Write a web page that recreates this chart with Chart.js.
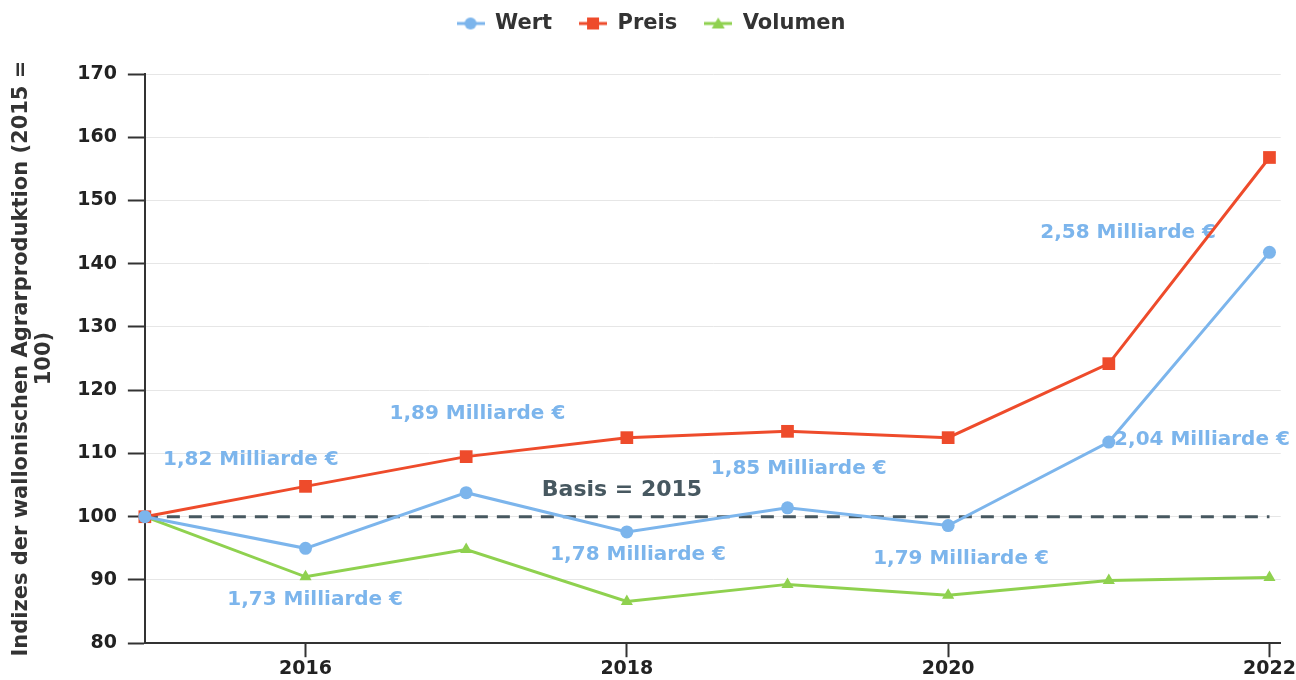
<!DOCTYPE html>
<html>
<head>
<meta charset="utf-8">
<script src="https://cdn.jsdelivr.net/npm/chart.js@4.4.0/dist/chart.umd.min.js"></script>
<style>
  html, body { margin: 0; padding: 0; background: #fff; }
  #wrap { width: 1296px; height: 680px; }
</style>
</head>
<body>
<div id="wrap"><canvas id="agrarChart" width="1296" height="680"></canvas></div>
<script>
const years = [2015, 2016, 2017, 2018, 2019, 2020, 2021, 2022];
const wert = [100, 95.0, 103.8, 97.6, 101.4, 98.6, 111.8, 141.8];
const preis = [100, 104.8, 109.5, 112.5, 113.5, 112.5, 124.2, 156.8];
const volumen = [100, 90.5, 94.8, 86.6, 89.3, 87.6, 89.9, 90.4];
const xTicks = [2016, 2018, 2020, 2022];
const basisValue = 100;

// Wert-Beschriftungen (Position in Datenkoordinaten: Jahr, Index)
const wertLabels = [
    { text: '1,82 Milliarde €', x: 2015.66, y: 109.0 },
    { text: '1,73 Milliarde €', x: 2016.06, y: 86.8 },
    { text: '1,89 Milliarde €', x: 2017.07, y: 116.2 },
    { text: '1,78 Milliarde €', x: 2018.07, y: 93.9 },
    { text: '1,85 Milliarde €', x: 2019.07, y: 107.6 },
    { text: '1,79 Milliarde €', x: 2020.08, y: 93.3 },
    { text: '2,04 Milliarde €', x: 2021.58, y: 112.2 },
    { text: '2,58 Milliarde €', x: 2021.12, y: 144.9 },
];
const basisLabel = { text: 'Basis = 2015', x: 2017.97, y: 104.2 };

const FONT = "'DejaVu Sans', sans-serif";
const BLUE = '#7cb5ec';
const RED = '#ee4b2b';
const GREEN = '#8fd14f';
const SLATE = '#475860';

function toPoints(values) {
    return years.map((y, i) => ({ x: y, y: values[i] }));
}

// kleine Legendensymbole: Linie mit Marker
function legendIcon(color, shape) {
    const c = document.createElement('canvas');
    c.width = 28; c.height = 14;
    const g = c.getContext('2d');
    g.strokeStyle = color; g.fillStyle = color; g.lineWidth = 3;
    g.beginPath(); g.moveTo(0, 7); g.lineTo(28, 7); g.stroke();
    g.beginPath();
    if (shape === 'circle') g.arc(14, 7, 6, 0, Math.PI * 2);
    else if (shape === 'rect') g.rect(8, 1, 12, 12);
    else { g.moveTo(14, 1); g.lineTo(20.5, 12); g.lineTo(7.5, 12); g.closePath(); }
    g.fill();
    return c;
}
const icons = [legendIcon(BLUE, 'circle'), legendIcon(RED, 'rect'), legendIcon(GREEN, 'triangle')];

const textLabels = {
    id: 'textLabels',
    beforeDatasetsDraw(chart) {
        const { ctx, scales } = chart;
        ctx.save();
        ctx.textAlign = 'center';
        ctx.textBaseline = 'middle';
        ctx.font = 'bold 20px ' + FONT;
        ctx.fillStyle = BLUE;
        wertLabels.forEach(l => {
            ctx.fillText(l.text, scales.x.getPixelForValue(l.x), scales.y.getPixelForValue(l.y));
        });
        ctx.font = 'bold 22px ' + FONT;
        ctx.fillStyle = SLATE;
        ctx.fillText(basisLabel.text, scales.x.getPixelForValue(basisLabel.x), scales.y.getPixelForValue(basisLabel.y));
        ctx.restore();
    }
};

const legendGap = {
    id: 'legendGap',
    beforeInit(chart) {
        const fit = chart.legend.fit;
        chart.legend.fit = function () {
            fit.bind(chart.legend)();
            this.height += 30;
        };
    }
};

const data = {
    datasets: [{
        label: 'Wert',
        data: toPoints(wert),
        borderColor: BLUE,
        backgroundColor: BLUE,
        borderWidth: 3,
        pointStyle: 'circle',
        pointRadius: 6.5,
        pointBorderWidth: 0,
        order: 1,
    }, {
        label: 'Preis',
        data: toPoints(preis),
        borderColor: RED,
        backgroundColor: RED,
        borderWidth: 3,
        pointStyle: 'rect',
        pointRadius: 9,
        pointBorderWidth: 0,
        order: 1,
    }, {
        label: 'Volumen',
        data: toPoints(volumen),
        borderColor: GREEN,
        backgroundColor: GREEN,
        borderWidth: 3,
        pointStyle: 'triangle',
        pointRadius: 7,
        pointBorderWidth: 0,
        order: 1,
    }, {
        label: 'Basis',
        data: [{ x: years[0], y: basisValue }, { x: years[years.length - 1], y: basisValue }],
        borderColor: SLATE,
        borderWidth: 3,
        borderDash: [13, 9],
        pointRadius: 0,
        order: 2,
    }]
};

const config = {
    type: 'line',
    data: data,
    options: {
        responsive: false,
        animation: false,
        layout: { padding: { top: -14, left: 6, right: 0, bottom: 0 } },
        plugins: {
            legend: {
                position: 'top',
                labels: {
                    color: '#333',
                    font: { family: FONT, size: 21, weight: 'bold' },
                    usePointStyle: true,
                    pointStyleWidth: 28,
                    padding: 27,
                    filter: item => item.text !== 'Basis',
                    generateLabels(chart) {
                        const items = Chart.defaults.plugins.legend.labels.generateLabels(chart);
                        items.forEach((it, i) => { if (icons[i]) it.pointStyle = icons[i]; });
                        return items;
                    }
                }
            },
            tooltip: { enabled: false }
        },
        scales: {
            x: {
                type: 'linear',
                min: 2015,
                max: 2022.07,
                afterBuildTicks(scale) {
                    scale.ticks = xTicks.map(v => ({ value: v }));
                },
                ticks: {
                    color: '#222',
                    font: { family: FONT, size: 19, weight: 'bold' },
                    padding: 0,
                    callback: v => String(v),
                },
                grid: {
                    drawOnChartArea: false,
                    tickColor: '#333',
                    tickWidth: 2,
                    tickLength: 14,
                },
                border: { color: '#333', width: 2 },
            },
            y: {
                min: 80,
                max: 170,
                ticks: {
                    stepSize: 10,
                    color: '#222',
                    font: { family: FONT, size: 19, weight: 'bold' },
                    padding: 11,
                },
                grid: {
                    color: '#e6e6e6',
                    lineWidth: 1,
                    tickColor: '#333',
                    tickWidth: 2,
                    tickLength: 17,
                },
                border: { color: '#333', width: 2 },
                title: {
                    display: true,
                    text: ['Indizes der wallonischen Agrarproduktion (2015 =', '100)'],
                    color: '#333',
                    font: { family: FONT, size: 21, weight: 'bold', lineHeight: 1.1 },
                    padding: { top: 4, bottom: 10 },
                }
            }
        },
        elements: { line: { tension: 0 } },
        clip: false,
    },
    plugins: [textLabels, legendGap],
};

const agrarChart = new Chart(document.getElementById('agrarChart'), config);
</script>
</body>
</html>
